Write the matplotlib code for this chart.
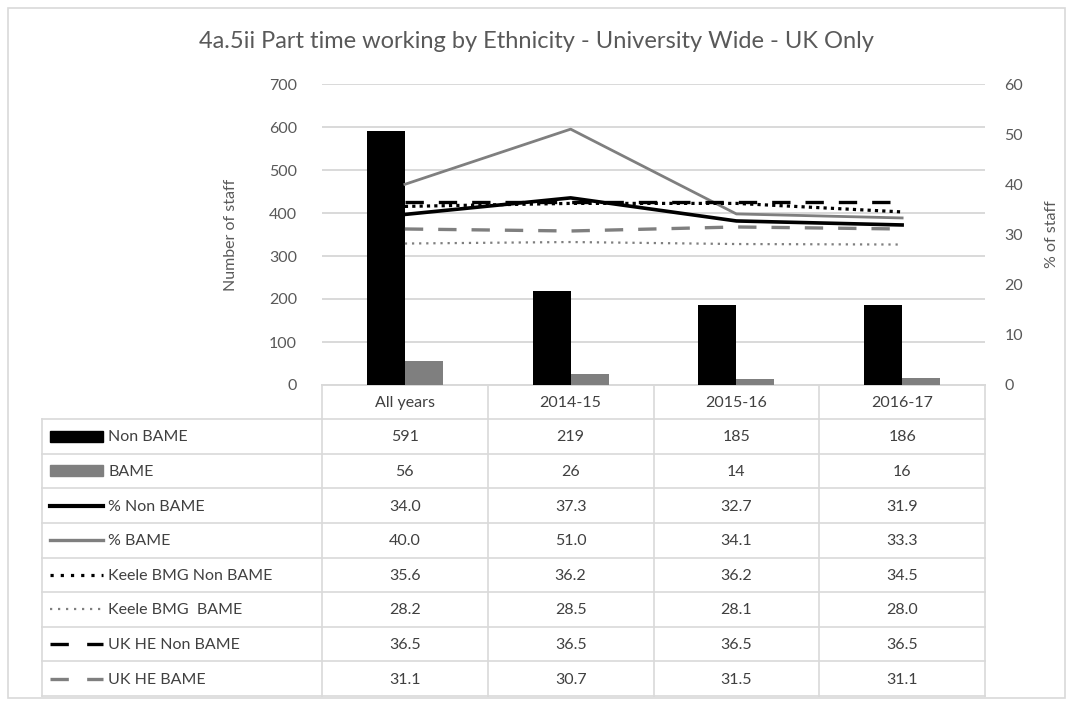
import matplotlib
matplotlib.use("Agg")
import matplotlib.pyplot as plt
from matplotlib.lines import Line2D
from matplotlib.patches import Rectangle

plt.rcParams['font.family'] = ['Lato', 'DejaVu Sans']

TEXT = '#595959'
GRID = '#d9d9d9'
GREY = '#7f7f7f'

categories = ['All years', '2014-15', '2015-16', '2016-17']

non_bame = [591, 219, 185, 186]
bame = [56, 26, 14, 16]

pct_non_bame = [34.0, 37.3, 32.7, 31.9]
pct_bame = [40.0, 51.0, 34.1, 33.3]
keele_non_bame = [35.6, 36.2, 36.2, 34.5]
keele_bame = [28.2, 28.5, 28.1, 28.0]
ukhe_non_bame = [36.5, 36.5, 36.5, 36.5]
ukhe_bame = [31.1, 30.7, 31.5, 31.1]

left_ticks = [0, 100, 200, 300, 400, 500, 600, 700]
right_ticks = [0, 10, 20, 30, 40, 50, 60]

W, H = 1073, 706
fig = plt.figure(figsize=(W / 100, H / 100), dpi=100)

# plot area in pixels
PL, PR, PT, PB = 322, 985, 84, 385
ax = fig.add_axes([PL / W, 1 - PB / H, (PR - PL) / W, (PB - PT) / H])
ax2 = ax.twinx()

x = list(range(len(categories)))
bw = 0.23
ax.bar([i - bw / 2 for i in x], non_bame, bw, color='black', zorder=3)
ax.bar([i + bw / 2 for i in x], bame, bw, color=GREY, zorder=3)
ax.set_xlim(-0.5, len(categories) - 0.5)
ax.set_ylim(0, 700)
ax.set_yticks(left_ticks)
ax.yaxis.grid(True, color=GRID, linewidth=1.4, zorder=0)
ax.set_axisbelow(True)
ax.set_xticks([])
for s in ax.spines.values():
    s.set_visible(False)
ax.spines['bottom'].set_visible(True)
ax.spines['bottom'].set_color(GRID)
ax.spines['bottom'].set_linewidth(1.4)
ax.tick_params(axis='y', length=0, labelsize=11.5, labelcolor=TEXT, pad=18)
ax.set_ylabel('Number of staff', color=TEXT, fontsize=11.5, labelpad=22)

# (label, values, colour, linestyle in plot, width, linestyle in key)
series = [
    ('Non BAME', None, 'black', None, None, None),
    ('BAME', None, GREY, None, None, None),
    ('% Non BAME', pct_non_bame, 'black', '-', 2.6, '-'),
    ('% BAME', pct_bame, GREY, '-', 2.0, '-'),
    ('Keele BMG Non BAME', keele_non_bame, 'black', (0, (1, 1.3)), 2.3, (0, (1, 2.2))),
    ('Keele BMG  BAME', keele_bame, GREY, (0, (1, 2.2)), 1.6, (0, (1, 2.6))),
    ('UK HE Non BAME', ukhe_non_bame, 'black', (0, (5.5, 4.5)), 2.4, (0, (5.5, 5.5))),
    ('UK HE BAME', ukhe_bame, GREY, (0, (5.5, 4.5)), 2.4, (0, (5.5, 5.5))),
]
for name, vals, col, ls, lw, _ in series:
    if vals is not None:
        ax2.plot(x, vals, color=col, linestyle=ls, linewidth=lw, zorder=4)

ax2.set_ylim(0, 60)
ax2.set_yticks(right_ticks)
for s in ax2.spines.values():
    s.set_visible(False)
ax2.tick_params(axis='y', length=0, labelsize=11.5, labelcolor=TEXT, pad=14)
ax2.set_ylabel('% of staff', color=TEXT, fontsize=11.5, labelpad=16)

fig.text(0.5, 1 - 42 / H, '4a.5ii Part time working by Ethnicity - University Wide - UK Only',
         ha='center', va='center', fontsize=17, color=TEXT)

# data table drawn in pixel coordinates
tab = fig.add_axes([0, 0, 1, 1], zorder=5)
tab.set_xlim(0, W)
tab.set_ylim(H, 0)
tab.axis('off')
tab.patch.set_alpha(0)

tab.add_patch(Rectangle((8, 8), W - 16, H - 16, fill=False, edgecolor=GRID, linewidth=1.2))

TL = 42
head_top, head_bot = PB, 419
row_h = (696 - head_bot) / len(series)
col_w = (PR - PL) / len(categories)

# header row
for j, cat in enumerate(categories):
    tab.text(PL + (j + 0.5) * col_w, (head_top + head_bot) / 2 + 1, cat,
             ha='center', va='center', fontsize=11.5, color='#404040')
for j in range(len(categories) + 1):
    xx = PL + j * col_w
    tab.plot([xx, xx], [head_top, head_bot], color=GRID, linewidth=1.2)

rows = [non_bame, bame, pct_non_bame, pct_bame, keele_non_bame, keele_bame,
        ukhe_non_bame, ukhe_bame]
for i, ((name, _, col, ls, lw, key_ls), vals) in enumerate(zip(series, rows)):
    top = head_bot + i * row_h
    cy = top + row_h / 2
    if i < 2:
        tab.add_patch(Rectangle((50, cy - 5.5), 53, 11, color=col))
    else:
        tab.add_line(Line2D([50, 103], [cy, cy], color=col, linestyle=key_ls,
                            linewidth=lw + 0.4 if i < 4 else lw))
    tab.text(108, cy + 1, name, ha='left', va='center', fontsize=11.5, color='#404040')
    for j, v in enumerate(vals):
        txt = f'{v:d}' if isinstance(v, int) else f'{v:.1f}'
        tab.text(PL + (j + 0.5) * col_w, cy + 1, txt, ha='center', va='center',
                 fontsize=11.5, color='#404040')

# grid lines of the table
for i in range(len(series) + 1):
    yy = head_bot + i * row_h
    tab.plot([TL, PR], [yy, yy], color=GRID, linewidth=1.2)
for xx in [TL] + [PL + j * col_w for j in range(len(categories) + 1)]:
    tab.plot([xx, xx], [head_bot, 696], color=GRID, linewidth=1.2)

fig.savefig('out.png', dpi=100)
